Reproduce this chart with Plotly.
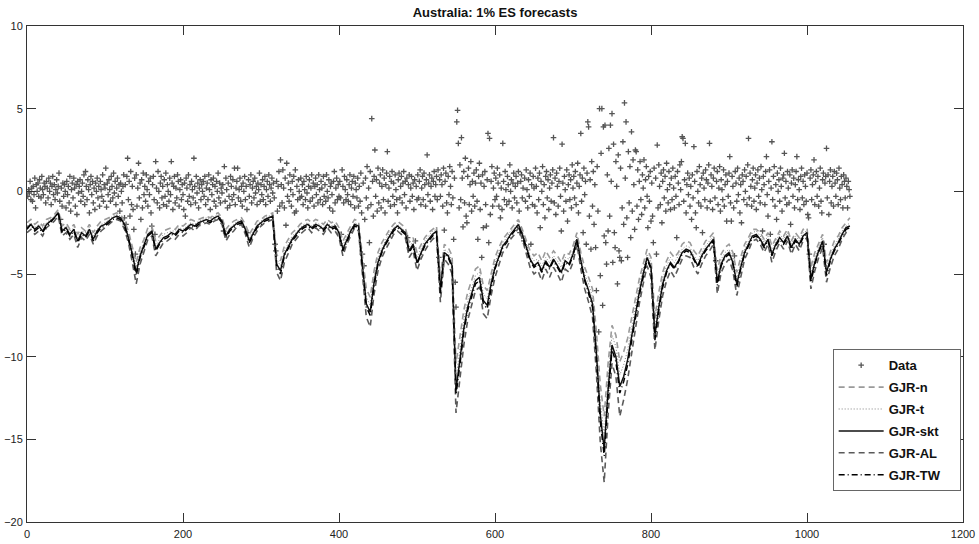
import plotly.graph_objects as go

# ---------------- data ----------------
title_text = "Australia: 1% ES forecasts"
series_names = ["Data", "GJR-n", "GJR-t", "GJR-skt", "GJR-AL", "GJR-TW"]

# daily returns (t = 1 .. 1055)
data_vals = [
    -0.3, 0.1, -0.1, 0.6, -0.5, 0.2, -0.6, 0.3, -0.2, 0.8, -1.0, 0.4, 0.0, 0.5, -0.3, 0.7, 0.2, -0.4, 0.9, 0.1, -0.2, 0.5, 0.3, -0.7, 0.6,
    0.2, -0.4, 0.8, 0.0, 0.5, -0.8, 0.3, 0.9, -0.2, 0.4, -0.5, 0.1, 0.7, -0.1, 0.3, 1.1, -0.6, -1.7, 0.2, -0.9, 0.5, -0.3, 0.4, 0.0, -1.0,
    0.6, -0.2, 0.3, -0.7, 0.9, -1.2, 0.1, 0.5, -0.4, 0.8, 0.2, -0.9, 0.4, -1.4, 0.6, -0.1, 0.3, 0.7, -0.6, 0.0, 0.5, -0.3, 1.0, -0.8, 1.2,
    0.3, -0.5, 0.7, 0.1, -1.3, 0.4, 0.9, -0.2, 0.6, -0.7, 0.2, -1.1, 0.5, 0.0, 0.8, -0.4, 0.3, -0.9, 0.6, 0.1, -0.3, 1.0, -0.6, 0.4, 0.2,
    1.4, -0.95, 0.5, -0.2, 0.7, 0.1, -0.6, 0.9, 0.3, -0.4, 1.1, -0.1, 0.6, -0.8, 0.2, 0.8, -0.3, 0.4, -1.2, 0.5, 0.0, -0.7, 0.3, 1.0, -1.6,
    0.4, -2.0, 0.9, 2.0, -0.5, 0.6, -1.5, 1.2, -0.8, 0.3, -1.1, -2.3, 0.8, -3.8, 1.0, -0.9, 0.2, 1.7, -0.4, 0.5, -1.7, 0.7, -1.0, 1.1, -0.2,
    0.3, -0.6, 1.0, 0.1, -0.9, 0.6, -0.2, 0.8, -1.3, -2.1, 0.4, 0.9, -0.5, -2.6, 1.8, 0.2, -0.7, 1.2, 0.0, -1.0, 0.5, 0.9, -0.4, 0.3, -0.8,
    0.7, -0.3, 1.1, -0.9, 0.4, 0.0, -0.6, 0.8, -0.2, 1.8, 0.5, -1.1, 0.3, 0.9, -0.7, 0.2, -0.4, 1.0, 0.6, -0.9, 0.1, 0.7, -0.5, 0.4, -0.2,
    -1.1, 0.5, -1.5, 0.8, 0.2, -0.6, 1.0, -0.3, 0.4, -0.8, 0.6, 0.1, -0.4, 2.0, 0.3, -0.7, 0.9, -0.1, 0.5, -1.0, 0.2, 0.7, -0.5, 0.4, 0.0,
    0.6, -0.3, 0.9, -0.8, 0.2, 0.5, -0.5, 1.0, 0.1, -1.1, 0.7, -0.2, 0.4, 0.8, -0.6, 0.3, -0.9, 0.6, 0.0, 1.1, -0.4, 0.5, -0.7, 0.2, -0.1,
    0.4, -2.4, 1.5, -0.6, 0.8, 0.1, -1.0, 0.5, -0.3, -0.85, 0.9, 0.3, -0.5, 0.7, -0.2, 1.4, -0.8, 0.2, 0.6, 1.4, -0.4, 0.1, 0.8, -0.6, 0.3,
    -0.9, 0.5, 0.0, 0.9, -0.5, 0.3, -1.1, -2.5, 0.7, -0.3, 0.4, 1.0, -0.7, 0.2, 0.6, -0.4, 0.8, -0.1, 0.3, -0.8, 0.5, 0.1, 1.1, -0.6, 0.4,
    -0.2, 0.7, -0.5, 0.3, 0.9, -0.8, 0.1, 0.6, -0.3, 1.0, 0.4, -0.6, 0.2, 0.8, -0.1, 0.5, -0.4, -3.2, -3.6, 0.6, -1.2, 0.3, 1.2, -0.9, 1.9,
    0.4, -0.7, 1.3, 0.2, -1.0, 0.8, -2.05, 1.7, -0.3, 0.5, -0.6, 1.0, 0.1, -0.9, 0.6, -0.2, 0.9, -1.3, 1.3, -1.2, 0.3, -0.5, 0.7, 0.0, -0.4,
    0.8, -0.3, 0.4, -0.8, 0.6, 0.1, -0.5, 0.9, -0.1, -1.0, 0.3, 0.7, -0.6, 0.2, 1.0, -0.4, 0.5, -0.9, 0.3, 0.8, -0.2, 0.4, -0.7, 1.0, 0.1,
    -0.5, 0.6, 0.2, -0.8, 0.9, -0.3, 0.4, -0.6, 1.0, 0.0, -0.4, 0.7, -1.0, 0.3, 0.5, -0.2, -1.2, 0.6, 1.2, -0.7, 0.2, 0.8, -0.5, 0.4, -0.3,
    0.6, -0.4, -2.6, 1.3, 0.3, -0.7, 0.9, 0.1, -0.5, 0.7, -0.2, -0.6, 0.4, 1.0, -0.8, 0.2, 0.6, -0.3, 0.9, -1.0, 0.5, 0.1, -0.4, 0.8, -0.9,
    0.3, -0.6, 1.1, -1.3, -3.8, 0.5, -4.5, -1.7, 0.8, -0.4, 1.5, -1.0, 0.2, -3.1, 1.2, -0.8, 4.4, 0.6, -1.5, 0.9, 2.5, -0.3, 0.7, -1.2, 1.4,
    -0.7, 0.5, 1.0, -1.0, 0.3, 1.3, -0.5, 0.8, -1.3, 0.4, 1.1, 2.4, -0.6, 0.2, 0.9, -0.9, 0.6, 1.2, -0.3, 0.5, -0.8, 1.0, 0.1, -0.5, -1.3,
    0.7, 1.1, -0.4, 0.3, 0.9, -0.7, 0.5, 1.2, -0.2, 0.6, -1.0, 0.8, -2.8, 0.4, 1.0, -0.6, 0.2, 0.9, -0.3, 0.5, -1.1, 0.7, -3.0, 0.3, -0.5,
    1.0, -0.4, 0.6, 1.3, -0.8, 0.2, 0.9, -0.5, 1.1, 0.4, -0.9, 0.7, 2.2, -0.2, 0.5, 1.0, -0.6, 0.3, 0.8, -1.1, 0.6, 1.2, -0.3, 0.4, 0.9,
    -0.5, 1.3, -4.0, 0.7, -0.3, 1.0, 0.4, -0.9, 1.4, -2.35, 0.6, 1.1, -0.7, -1.3, 0.9, -0.2, 1.5, 0.3, -0.8, 1.2, -0.4, -2.9, 0.8, -5.5, -7.0,
    4.2, 4.9, 2.9, -1.0, 1.6, -0.5, 3.25, 0.8, -2.15, 1.2, -0.7, 2.0, -1.5, -1.9, 0.9, 1.4, -0.8, 0.4, 1.8, -1.2, 0.6, -0.3, 1.1, -0.9, 0.5,
    1.3, -0.6, -2.9, 0.9, 1.7, -1.1, 0.5, -4.0, 1.0, -2.2, 0.3, 1.2, -0.8, -2.1, 0.7, 3.5, -3.1, 3.2, -1.4, 0.6, 1.5, -0.9, 0.2, 1.1, -0.5,
    0.8, -0.3, 1.4, 0.5, -0.9, 1.0, -1.6, 0.2, -1.1, 2.9, 0.6, -0.5, 1.2, 0.1, -0.8, 0.9, 0.4, -0.6, 1.6, 0.0, 0.7, -1.0, 0.5, 1.1, -0.4,
    0.3, 0.9, -0.7, 0.5, 1.2, -1.2, -2.5, 0.6, 1.0, -0.4, 0.2, -3.0, 0.8, -0.6, 1.3, 0.1, -1.0, 0.7, -0.3, 1.1, -3.2, 0.4, -0.8, 0.9, 0.2,
    -0.9, 1.4, 0.3, -1.3, 0.8, -0.5, 1.1, -2.2, 0.6, 0.0, 1.5, -0.8, 0.4, -1.6, 0.9, 1.2, -0.4, 0.7, -1.1, 0.2, 1.0, -0.6, 0.5, 1.3, 3.25,
    -0.7, 0.8, -1.4, 1.1, 0.3, -0.9, 0.6, 1.4, -0.3, -2.4, 2.85, 0.5, -1.2, 0.9, 0.1, -0.6, 1.3, -1.8, 0.4, 1.0, -0.5, 0.7, -1.0, 1.6, 0.2,
    0.9, -0.4, 1.2, -0.8, 0.5, 1.7, -1.3, 0.3, 1.0, 3.5, -0.6, 0.8, -2.5, 1.4, -0.2, 0.6, -3.2, 1.1, 4.2, 3.9, -1.5, 0.7, -3.5, 1.8, -0.9,
    1.2, -2.0, 0.4, -3.4, -6.0, 1.5, -1.2, -8.5, 5.0, -5.1, 2.3, 5.0, -6.9, 3.9, -2.7, 4.0, -3.1, -4.4, 1.0, -2.4, 2.6, -1.5, 4.0, 0.6, 4.7,
    -4.3, 2.85, -2.5, -3.4, 1.8, 0.3, -5.6, 2.2, -3.6, -4.0, 1.4, -4.2, -1.0, 3.0, -2.0, 5.35, 0.8, 4.2, -1.6, -4.0, 2.4, -0.7, 1.5, -2.8, 3.6,
    -1.2, 1.9, 0.4, -2.3, 2.5, 2.4, -0.9, 1.3, -1.7, 0.6, 1.8, -0.5, -1.4, 1.0, 0.2, 1.9, -1.0, 0.7, 1.5, -0.3, -2.2, 0.9, -0.6, 1.2, -1.8,
    0.5, -1.5, -3.1, 1.4, -7.5, 0.8, -3.8, 2.8, -1.0, 1.6, 0.3, -0.8, 1.1, -1.9, 0.6, 1.3, -0.4, 0.9, -1.2, 1.7, 0.1, -0.7, 1.2, 0.4, -1.1,
    0.8, -0.5, 1.4, 0.2, -1.0, 0.9, -0.3, -2.8, 1.2, 0.5, -0.8, 1.6, 0.1, 1.8, 3.3, 3.2, -0.6, 0.7, 2.9, -1.3, 0.4, 1.1, -0.2, 0.8, -0.9,
    0.3, -1.7, 1.0, -0.4, 2.7, 0.6, -1.3, -2.2, 1.2, 0.0, -0.7, 1.5, 0.4, -0.9, 0.8, -2.5, 1.1, 0.2, -0.5, 1.3, 0.7, -1.0, 0.5, 1.6, 2.9,
    -0.6, 1.0, 0.3, -1.1, 0.8, 1.4, -0.4, -4.2, 0.6, 1.2, -0.8, 0.2, 1.5, -1.2, 0.7, 0.1, -0.5, 1.3, -0.9, 0.4, 1.0, -1.8, 0.6, -0.3, 1.1,
    2.1, -0.7, -1.8, 0.9, 0.3, -1.0, -3.9, 1.2, 0.5, -0.6, 1.4, -0.2, 0.8, -1.3, 0.4, -1.9, 1.0, 0.6, -0.5, 1.3, 0.0, 0.9, -0.8, 1.6, 3.2,
    -0.4, 1.1, 0.3, -0.9, 0.7, 1.4, -0.6, 0.2, 1.0, -1.1, 0.5, 1.3, -0.3, 0.8, -0.7, 1.5, 0.1, -2.4, 0.9, 0.4, -0.8, 1.2, 2.1, -0.2, -1.5,
    0.6, 1.3, -2.6, 0.2, 3.0, -0.5, 0.9, 1.5, -0.9, 0.4, -1.7, 1.1, 0.0, 0.7, -0.6, 1.4, 0.3, -1.2, 0.8, 1.0, 2.3, -0.4, 0.6, -0.8, 1.2,
    0.2, -0.7, 1.0, -2.0, 0.5, 1.3, -0.3, 0.8, -1.0, 0.4, 1.2, 2.1, -0.5, 0.7, 0.1, -1.1, 0.9, 1.4, -0.4, 0.6, -0.8, 1.0, 0.3, -0.6, 1.1,
    -1.4, -1.6, -3.8, 0.8, 1.3, -0.5, 0.4, 1.0, 1.9, -0.8, 0.6, 1.2, -0.3, 0.9, -0.9, 0.2, 1.4, -0.6, -1.3, 0.7, 1.1, -3.2, 0.5, 0.9, 2.6,
    -0.4, 1.0, -1.4, 0.6, 1.3, -0.7, 0.3, 0.9, -0.9, 1.2, 0.5, -0.3, 1.1, 0.7, -0.8, 1.4, 0.2, -0.5, 0.9, 0.4, -1.0, 1.0, 0.6, -0.4, 0.8,
    0.3, -1.0, 0.6, 0.1, -0.3,
]

# 1% ES forecasts, one value every 5 days (t = 0, 5, ..., 1055)
es_skt = [
    -2.2, -2.0, -2.3, -2.1, -2.4, -2.0, -1.8, -1.6, -1.3, -2.4,
    -2.2, -2.6, -2.3, -3.0, -2.5, -2.7, -2.3, -2.9, -2.4, -2.1,
    -2.0, -1.8, -1.6, -1.5, -1.6, -2.0, -2.8, -3.8, -4.9, -3.9,
    -3.3, -2.6, -2.4, -3.5, -3.1, -2.8, -2.7, -2.5, -2.6, -2.3,
    -2.4, -2.2, -2.0, -2.1, -1.9, -1.8, -1.7, -1.8, -1.6, -1.5,
    -1.8, -2.7, -2.3, -2.1, -1.9, -1.8, -2.3, -3.0, -2.5, -2.1,
    -1.9, -1.7, -1.6, -1.5, -4.4, -4.8, -3.8, -3.3, -2.9, -2.6,
    -2.3, -2.1, -2.0, -2.2, -2.0, -2.1, -2.3, -2.0, -2.2, -2.1,
    -2.5, -3.5, -2.9, -2.4, -2.0, -2.1, -4.5, -6.8, -7.3, -5.5,
    -4.3, -3.6, -3.1, -2.7, -2.3, -2.1, -2.3, -2.5, -3.6, -3.2,
    -4.3, -3.7, -3.2, -2.9, -2.6, -2.4, -6.0, -3.7, -3.9, -4.5,
    -12.0, -10.2, -8.3, -7.0, -6.2, -5.4, -5.2, -6.6, -6.9, -5.6,
    -4.6, -3.9, -3.3, -3.0, -2.6, -2.3, -2.0, -2.6, -3.3, -4.1,
    -4.5, -4.3, -4.8, -4.2, -4.6, -4.1, -4.5, -4.9, -4.2, -4.4,
    -3.8, -2.9, -4.2, -5.3, -6.0, -6.8, -9.8, -13.5, -15.6, -12.0,
    -9.3, -10.0, -11.8, -11.2, -10.2, -8.8, -7.3, -6.1, -5.0, -4.0,
    -4.6, -8.7, -7.0, -5.6, -4.8, -4.3, -4.6, -4.2, -3.7, -3.5,
    -3.6, -4.1, -4.5, -3.9, -3.5, -3.2, -2.9, -5.5, -4.4, -3.9,
    -3.7, -4.3, -5.6, -4.6, -3.7, -3.2, -2.7, -2.6, -2.9, -3.3,
    -2.9, -3.8, -3.2, -2.8, -3.1, -2.7, -3.4, -2.9, -3.2, -2.7,
    -2.5, -5.3, -4.3, -3.6, -3.0, -4.9, -4.1, -3.5, -3.1, -2.6,
    -2.2, -2.1,
]
es_n = [
    -1.9, -1.7, -2.0, -1.8, -2.1, -1.7, -1.6, -1.4, -1.1, -2.1,
    -1.9, -2.3, -2.0, -2.6, -2.2, -2.4, -2.0, -2.5, -2.1, -1.8,
    -1.7, -1.6, -1.4, -1.3, -1.4, -1.8, -2.4, -3.3, -4.3, -3.4,
    -2.9, -2.2, -2.1, -3.0, -2.7, -2.4, -2.3, -2.2, -2.3, -2.0,
    -2.1, -1.9, -1.7, -1.8, -1.7, -1.6, -1.5, -1.6, -1.4, -1.3,
    -1.6, -2.3, -2.0, -1.8, -1.7, -1.6, -2.0, -2.6, -2.2, -1.8,
    -1.7, -1.5, -1.4, -1.3, -3.8, -4.2, -3.3, -2.9, -2.5, -2.3,
    -2.0, -1.8, -1.7, -1.9, -1.7, -1.8, -2.0, -1.7, -1.9, -1.8,
    -2.2, -3.0, -2.5, -2.1, -1.7, -1.8, -3.9, -5.9, -6.4, -4.8,
    -3.7, -3.1, -2.7, -2.3, -2.0, -1.8, -2.0, -2.2, -3.1, -2.8,
    -3.7, -3.2, -2.8, -2.5, -2.3, -2.1, -5.2, -3.2, -3.4, -3.9,
    -10.4, -8.9, -7.2, -6.1, -5.4, -4.7, -4.5, -5.7, -6.0, -4.9,
    -4.0, -3.4, -2.9, -2.6, -2.3, -2.0, -1.7, -2.3, -2.9, -3.6,
    -3.9, -3.7, -4.2, -3.6, -4.0, -3.6, -3.9, -4.3, -3.7, -3.8,
    -3.3, -2.5, -3.7, -4.6, -5.2, -5.9, -8.5, -11.7, -13.6, -10.4,
    -8.1, -8.7, -10.3, -9.7, -8.9, -7.7, -6.4, -5.3, -4.4, -3.5,
    -4.0, -7.6, -6.1, -4.9, -4.2, -3.7, -4.0, -3.7, -3.2, -3.0,
    -3.1, -3.6, -3.9, -3.4, -3.0, -2.8, -2.5, -4.8, -3.8, -3.4,
    -3.2, -3.7, -4.9, -4.0, -3.2, -2.8, -2.3, -2.3, -2.5, -2.9,
    -2.5, -3.3, -2.8, -2.4, -2.7, -2.3, -3.0, -2.5, -2.8, -2.3,
    -2.2, -4.6, -3.7, -3.1, -2.6, -4.3, -3.6, -3.0, -2.7, -2.2,
    -1.9, -1.6,
]
es_t = [
    -2.1, -1.9, -2.2, -2.0, -2.2, -1.9, -1.7, -1.5, -1.2, -2.3,
    -2.1, -2.4, -2.2, -2.8, -2.4, -2.5, -2.2, -2.7, -2.3, -2.0,
    -1.9, -1.7, -1.5, -1.4, -1.5, -1.9, -2.6, -3.6, -4.6, -3.7,
    -3.1, -2.5, -2.3, -3.3, -2.9, -2.6, -2.5, -2.4, -2.4, -2.2,
    -2.3, -2.1, -1.9, -2.0, -1.8, -1.7, -1.6, -1.7, -1.5, -1.4,
    -1.7, -2.5, -2.2, -2.0, -1.8, -1.7, -2.2, -2.8, -2.4, -2.0,
    -1.8, -1.6, -1.5, -1.4, -4.1, -4.5, -3.6, -3.1, -2.7, -2.5,
    -2.2, -2.0, -1.9, -2.1, -1.9, -2.0, -2.2, -1.9, -2.1, -2.0,
    -2.4, -3.3, -2.7, -2.3, -1.9, -2.0, -4.2, -6.4, -6.9, -5.2,
    -4.0, -3.4, -2.9, -2.5, -2.2, -2.0, -2.2, -2.4, -3.4, -3.0,
    -4.0, -3.5, -3.0, -2.7, -2.4, -2.3, -5.6, -3.5, -3.7, -4.2,
    -11.3, -9.6, -7.8, -6.6, -5.8, -5.1, -4.9, -6.2, -6.5, -5.3,
    -4.3, -3.7, -3.1, -2.8, -2.4, -2.2, -1.9, -2.4, -3.1, -3.9,
    -4.2, -4.1, -4.5, -4.0, -4.3, -3.9, -4.2, -4.6, -4.0, -4.1,
    -3.6, -2.7, -4.0, -5.0, -5.6, -6.4, -9.2, -12.7, -14.7, -11.3,
    -8.7, -9.4, -11.1, -10.5, -9.6, -8.3, -6.9, -5.7, -4.7, -3.8,
    -4.3, -8.2, -6.6, -5.3, -4.5, -4.0, -4.3, -3.9, -3.5, -3.3,
    -3.4, -3.9, -4.2, -3.7, -3.3, -3.0, -2.7, -5.2, -4.1, -3.7,
    -3.5, -4.0, -5.3, -4.3, -3.5, -3.0, -2.5, -2.4, -2.7, -3.1,
    -2.7, -3.6, -3.0, -2.6, -2.9, -2.5, -3.2, -2.7, -3.0, -2.5,
    -2.4, -5.0, -4.0, -3.4, -2.8, -4.6, -3.9, -3.3, -2.9, -2.4,
    -2.1, -1.9,
]
es_al = [
    -2.5, -2.3, -2.6, -2.4, -2.7, -2.2, -2.0, -1.8, -1.5, -2.7,
    -2.5, -2.9, -2.6, -3.4, -2.8, -3.0, -2.6, -3.2, -2.7, -2.4,
    -2.2, -2.0, -1.8, -1.7, -1.8, -2.3, -3.1, -4.3, -5.6, -4.4,
    -3.7, -2.9, -2.7, -3.9, -3.5, -3.1, -3.0, -2.8, -2.9, -2.6,
    -2.7, -2.5, -2.2, -2.4, -2.1, -2.0, -1.9, -2.0, -1.8, -1.7,
    -2.0, -3.0, -2.6, -2.4, -2.1, -2.0, -2.6, -3.4, -2.8, -2.4,
    -2.1, -1.9, -1.8, -1.7, -4.9, -5.4, -4.3, -3.7, -3.2, -2.9,
    -2.6, -2.4, -2.2, -2.5, -2.2, -2.4, -2.6, -2.2, -2.5, -2.4,
    -2.8, -3.9, -3.2, -2.7, -2.2, -2.4, -5.0, -7.6, -8.2, -6.2,
    -4.8, -4.0, -3.5, -3.0, -2.6, -2.4, -2.6, -2.8, -4.0, -3.6,
    -4.8, -4.1, -3.6, -3.2, -2.9, -2.7, -6.7, -4.1, -4.4, -5.0,
    -13.4, -11.4, -9.3, -7.8, -6.9, -6.0, -5.8, -7.4, -7.7, -6.3,
    -5.2, -4.4, -3.7, -3.4, -2.9, -2.6, -2.2, -2.9, -3.7, -4.6,
    -5.0, -4.8, -5.4, -4.7, -5.2, -4.6, -5.0, -5.5, -4.7, -4.9,
    -4.3, -3.2, -4.7, -5.9, -6.7, -7.6, -11.0, -15.2, -17.6, -13.5,
    -10.4, -11.2, -13.6, -12.6, -11.4, -9.9, -8.2, -6.8, -5.6, -4.5,
    -5.2, -9.6, -7.8, -6.3, -5.4, -4.8, -5.2, -4.7, -4.1, -3.9,
    -4.0, -4.6, -5.0, -4.4, -3.9, -3.6, -3.2, -6.2, -4.9, -4.4,
    -4.1, -4.8, -6.3, -5.2, -4.1, -3.6, -3.0, -2.9, -3.2, -3.7,
    -3.2, -4.3, -3.6, -3.1, -3.5, -3.0, -3.8, -3.2, -3.6, -3.0,
    -2.8, -5.9, -4.8, -4.0, -3.4, -5.5, -4.6, -3.9, -3.5, -2.9,
    -2.5, -2.4,
]
es_tw = [
    -2.3, -2.0, -2.4, -2.2, -2.5, -2.1, -1.9, -1.6, -1.3, -2.5,
    -2.3, -2.7, -2.4, -3.1, -2.6, -2.8, -2.4, -3.0, -2.5, -2.2,
    -2.1, -1.9, -1.7, -1.6, -1.7, -2.1, -2.9, -3.9, -5.1, -4.0,
    -3.4, -2.7, -2.5, -3.6, -3.2, -2.9, -2.8, -2.6, -2.7, -2.4,
    -2.5, -2.3, -2.1, -2.2, -2.0, -1.9, -1.8, -1.9, -1.7, -1.6,
    -1.9, -2.8, -2.4, -2.2, -2.0, -1.9, -2.4, -3.1, -2.6, -2.2,
    -2.0, -1.8, -1.7, -1.6, -4.5, -5.0, -3.9, -3.4, -3.0, -2.7,
    -2.4, -2.2, -2.1, -2.3, -2.1, -2.2, -2.4, -2.1, -2.3, -2.2,
    -2.6, -3.6, -3.0, -2.5, -2.1, -2.2, -4.6, -7.0, -7.5, -5.7,
    -4.4, -3.7, -3.2, -2.8, -2.4, -2.2, -2.4, -2.6, -3.7, -3.3,
    -4.4, -3.8, -3.3, -3.0, -2.7, -2.5, -6.2, -3.8, -4.0, -4.6,
    -12.3, -10.5, -8.5, -7.2, -6.4, -5.6, -5.4, -6.8, -7.1, -5.8,
    -4.7, -4.0, -3.4, -3.1, -2.7, -2.4, -2.1, -2.7, -3.4, -4.2,
    -4.6, -4.4, -4.9, -4.3, -4.7, -4.2, -4.6, -5.0, -4.3, -4.5,
    -3.9, -3.0, -4.3, -5.4, -6.2, -7.0, -10.1, -13.9, -16.0, -12.4,
    -9.6, -10.3, -12.2, -11.5, -10.5, -9.1, -7.5, -6.3, -5.2, -4.1,
    -4.7, -9.0, -7.2, -5.8, -4.9, -4.4, -4.7, -4.3, -3.8, -3.6,
    -3.7, -4.2, -4.6, -4.0, -3.6, -3.3, -3.0, -5.7, -4.5, -4.0,
    -3.8, -4.4, -5.8, -4.7, -3.8, -3.3, -2.8, -2.7, -3.0, -3.4,
    -3.0, -3.9, -3.3, -2.9, -3.2, -2.8, -3.5, -3.0, -3.3, -2.8,
    -2.6, -5.5, -4.4, -3.7, -3.1, -5.1, -4.2, -3.6, -3.2, -2.7,
    -2.3, -2.2,
]

data_t = list(range(1, len(data_vals) + 1))
es_t_axis = list(range(0, 5 * len(es_skt), 5))

x_ticks = [0, 200, 400, 600, 800, 1000, 1200]
y_ticks = [-20, -15, -10, -5, 0, 5, 10]

# ---------------- figure ----------------
FONT = "Liberation Sans, Arial, Helvetica, sans-serif"
PAD = "\u00a0" * 4  # invisible right padding inside the legend box
fig = go.Figure()

fig.add_trace(go.Scatter(
    x=data_t, y=data_vals, mode="markers", name=series_names[0] + PAD,
    marker=dict(symbol="cross-thin", size=4, color="#555555",
                line=dict(width=1.3, color="#555555")),
    legendgroup="a",
))

line_styles = [
    (es_n, series_names[1], "#9a9a9a", "6px,4px", 1.6, "b"),
    (es_t, series_names[2], "#808080", "1px,2px", 1.0, "c"),
    (es_skt, series_names[3], "#111111", "solid", 1.5, "d"),
    (es_al, series_names[4], "#5a5a5a", "6px,4px", 1.6, "e"),
    (es_tw, series_names[5], "#000000", "6px,3px,1px,3px", 1.5, "f"),
]
for vals, nm, col, dash, w, grp in line_styles:
    fig.add_trace(go.Scatter(
        x=es_t_axis, y=vals, mode="lines", name=nm + PAD,
        line=dict(color=col, dash=dash, width=w),
        legendgroup=grp,
    ))

axis_common = dict(
    showgrid=False, zeroline=False, showline=True, linecolor="#333333",
    linewidth=1, mirror="ticks", ticks="inside", ticklen=9,
    tickcolor="#333333", tickwidth=1, automargin=False,
    tickfont=dict(family=FONT, size=11, color="#222222"),
)

fig.update_layout(
    width=979, height=544,
    margin=dict(l=27, r=16, t=26, b=22),
    paper_bgcolor="white", plot_bgcolor="white",
    title=dict(text=title_text, x=0.5, xref="paper", xanchor="center",
               y=1 - 12 / 544, yref="container", yanchor="middle",
               font=dict(family=FONT, size=13, color="#111111", weight="bold")),
    xaxis=dict(range=[0, 1200], tickvals=x_ticks, ticklabelstandoff=2, **axis_common),
    yaxis=dict(range=[-20, 10], tickvals=y_ticks, ticklabelstandoff=1, **axis_common),
    legend=dict(
        x=0.9975, xanchor="right", y=0.062, yanchor="bottom",
        bgcolor="white", bordercolor="#666666", borderwidth=1,
        font=dict(family=FONT, size=13, color="#111111", weight="bold"),
        tracegroupgap=2, itemwidth=45,
    ),
    showlegend=True,
)

fig.write_html("out.html")
